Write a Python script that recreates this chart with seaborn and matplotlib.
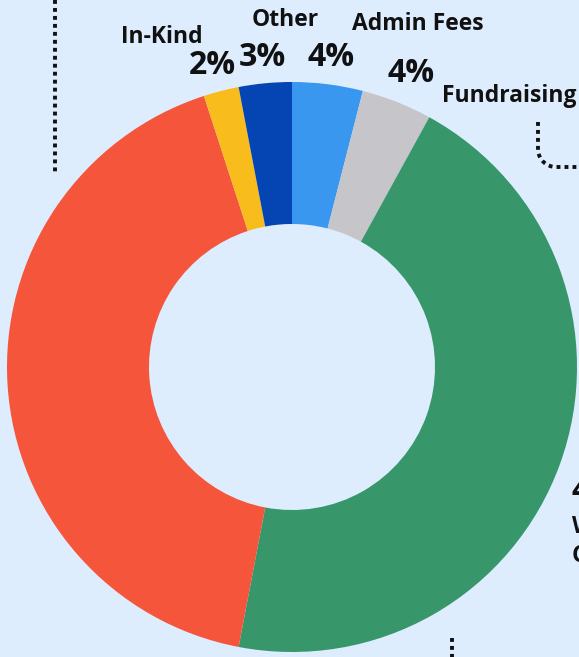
import numpy as np
import matplotlib.pyplot as plt
import seaborn as sns

# donut data, clockwise from 12 o'clock
categories = ['Admin Fees', 'Fundraising', 'W', 'Red segment', 'In-Kind', 'Other']
shares = [4, 4, 45, 42, 2, 3]
colors = ['#3A97EF', '#C5C5CA', '#37976B', '#F4553B', '#F8BD1C', '#0445B3']

# visible outside labels
label_texts = ['In-Kind', 'Other', 'Admin Fees', 'Fundraising']
pct_texts = ['2%', '3%', '4%', '4%']

W, H = 579, 657
bg = '#DEEDFE'

sns.set_theme(style='white')
plt.rcParams['font.family'] = ['Open Sans', 'DejaVu Sans']

fig = plt.figure(figsize=(W / 100, H / 100), dpi=100, facecolor=bg)
ax = fig.add_axes([0, 0, 1, 1])
ax.set_facecolor(bg)


def fy(y):
    # image pixel row -> data y
    return H - y


cx, cy, r_out, r_in = 292, 367, 285, 143
ax.pie(shares, colors=colors, startangle=90, counterclock=False,
       center=(cx, fy(cy)), radius=r_out,
       wedgeprops=dict(width=r_out - r_in, linewidth=0))

# category names
name_pos = [(162, 37), (285, 20), (418, 24), (509, 96)]
for t, (x, y) in zip(label_texts, name_pos):
    ax.text(x, fy(y), t, ha='center', va='center', fontsize=16.5,
            fontweight='bold', color='#111111')

# percentages
pct_pos = [(212, 65), (262, 58), (331, 58), (411, 74)]
for t, (x, y) in zip(pct_texts, pct_pos):
    ax.text(x, fy(y), t, ha='center', va='center', fontsize=23,
            fontweight='bold', color='#111111')

# labels cut off by the right edge, as in the source
ax.text(572, fy(492), '45%', ha='left', va='center', fontsize=23,
        fontweight='bold', color='#111111')
ax.text(572, fy(527), 'W', ha='left', va='center', fontsize=16.5,
        fontweight='bold', color='#111111')
ax.text(572, fy(556), 'C', ha='left', va='center', fontsize=16.5,
        fontweight='bold', color='#111111')

# dotted leader lines (square dots)
dot = dict(color='#111111', lw=2.8, linestyle=(0, (1, 1.05)),
           dash_capstyle='butt', solid_capstyle='butt')
ax.plot([55, 55], [fy(0), fy(172)], **dot)
t = np.linspace(np.pi, 1.5 * np.pi, 20)
arc_x = 556 + 18 * np.cos(t)
arc_y = 149 - 18 * np.sin(t)
path_x = np.concatenate([[538], arc_x, [579]])
path_y = np.concatenate([[122], arc_y, [167]])
ax.plot(path_x, fy(path_y), **dot)
ax.plot([452, 452], [fy(638), fy(657)], **dot)

ax.set_xlim(0, W)
ax.set_ylim(0, H)
ax.set_aspect('equal')
ax.axis('off')

fig.savefig('out.png', dpi=100, facecolor=bg)
